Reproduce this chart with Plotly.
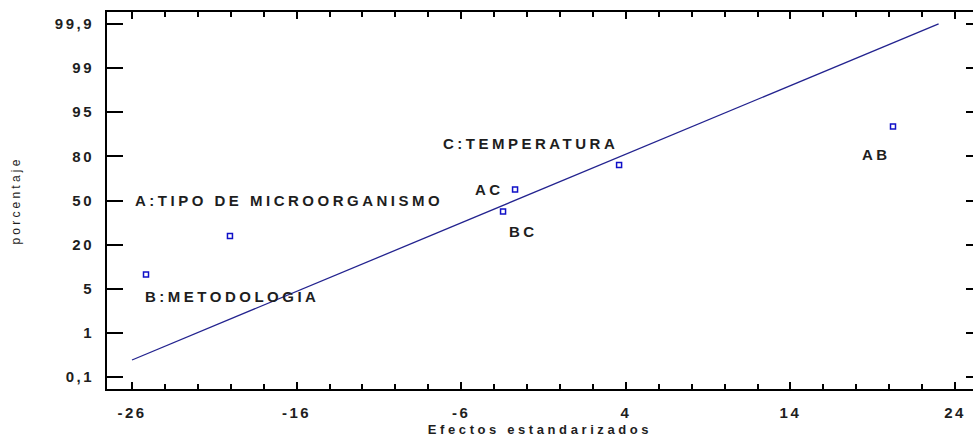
import numpy as np
import plotly.graph_objects as go
from statistics import NormalDist

# ---- data ----
effect_names = ["B:METODOLOGIA", "A:TIPO DE MICROORGANISMO", "BC", "AC", "C:TEMPERATURA", "AB"]
effect_values = [-25.15, -20.05, -3.46, -2.73, 3.59, 20.23]
effect_pcts = [8.3, 25.0, 41.7, 58.3, 75.0, 91.7]

line_effects = [-26.0, 23.0]
line_pcts = [0.26, 99.9]

y_tick_pcts = [0.1, 1, 5, 20, 50, 80, 95, 99, 99.9]
y_tick_labels = ["0,1", "1", "5", "20", "50", "80", "95", "99", "99,9"]
x_tick_vals = [-26, -16, -6, 4, 14, 24]

# label placement (pixel shifts relative to each point)
label_style = {
    "B:METODOLOGIA": dict(xanchor="left", xshift=-3, yshift=-22),
    "A:TIPO DE MICROORGANISMO": dict(xanchor="left", xshift=-97, yshift=35),
    "BC": dict(xanchor="left", xshift=4, yshift=-20),
    "AC": dict(xanchor="right", xshift=-9, yshift=0),
    "C:TEMPERATURA": dict(xanchor="left", xshift=-178, yshift=22),
    "AB": dict(xanchor="left", xshift=-33, yshift=-28),
}

# ---- probability scale (tick labels equally spaced, piecewise-linear in z) ----
nd = NormalDist()
tick_z = np.array([nd.inv_cdf(p / 100.0) for p in y_tick_pcts])
tick_pos = np.arange(len(y_tick_pcts), dtype=float)


def prob_pos(pcts):
    z = np.array([nd.inv_cdf(p / 100.0) for p in pcts])
    return np.interp(z, tick_z, tick_pos)


pts_y = prob_pos(effect_pcts)
line_y = prob_pos(line_pcts)

FONT = "Liberation Sans, Arial, sans-serif"
TXT = "#1e1e1e"


def spaced(s, sp):
    return f'<span style="letter-spacing:{sp}px">{s}</span>'


x_alias = {}
for v in x_tick_vals:
    s = str(v)
    x_alias[s] = spaced(s, 2.5)
    x_alias[s.replace("-", "\u2212")] = spaced(s, 2.5)

fig = go.Figure()
fig.add_trace(go.Scatter(
    x=line_effects, y=line_y, mode="lines",
    line=dict(color="#23238f", width=1.3),
    yaxis="y2", hoverinfo="skip", showlegend=False,
))
fig.add_trace(go.Scatter(
    x=effect_values, y=pts_y, mode="markers",
    marker=dict(symbol="square-open", size=5, color="#1010c8", line=dict(width=1.5, color="#1010c8")),
    text=effect_names, showlegend=False,
))

annotations = []
for name, xv, yv in zip(effect_names, effect_values, pts_y):
    st = label_style[name]
    annotations.append(dict(
        x=xv, y=yv, xref="x", yref="y", text=spaced(name, 3.5),
        showarrow=False, xanchor=st["xanchor"], yanchor="middle",
        xshift=st["xshift"], yshift=st["yshift"],
        font=dict(family=FONT, size=15, color=TXT, weight="bold"),
    ))

yrange = [-0.27, 8.27]
fig.update_layout(
    width=973, height=443,
    margin=dict(l=107, r=0, t=12, b=54),
    paper_bgcolor="white", plot_bgcolor="white",
    showlegend=False,
    annotations=annotations,
    xaxis=dict(
        range=[-27.52, 25.09], tickmode="linear", tick0=x_tick_vals[0], dtick=10,
        labelalias=x_alias,
        ticks="inside", ticklen=7, tickwidth=2, tickcolor="black",
        minor=dict(tick0=x_tick_vals[0], dtick=2, ticks="inside", ticklen=5, tickwidth=1.5,
                   tickcolor="black", showgrid=False),
        showline=True, linecolor="black", linewidth=2, mirror="ticks",
        showgrid=False, zeroline=False, automargin=False,
        tickfont=dict(family=FONT, size=15, color=TXT, weight="bold"),
        ticklabelstandoff=9,
        title=dict(text=spaced("Efectos estandarizados", 3.6), standoff=5,
                   font=dict(family=FONT, size=13, color=TXT, weight="bold")),
    ),
    yaxis=dict(
        range=yrange, tickvals=list(tick_pos),
        ticktext=[spaced(t, 2.5) for t in y_tick_labels],
        ticks="inside", ticklen=16, tickwidth=2, tickcolor="black",
        showline=True, linecolor="black", linewidth=2, mirror=False,
        showgrid=False, zeroline=False, automargin=False,
        tickfont=dict(family=FONT, size=15, color=TXT, weight="bold"),
        ticklabelstandoff=8,
        title=dict(text=spaced("porcentaje", 3.2), standoff=32,
                   font=dict(family=FONT, size=12, color=TXT)),
    ),
    yaxis2=dict(
        range=yrange, overlaying="y", side="right", tickvals=list(tick_pos),
        showticklabels=False, ticks="inside", ticklen=7, tickwidth=2, tickcolor="black",
        showline=False, showgrid=False, zeroline=False, automargin=False,
    ),
)

fig.write_html("out.html", config={"displayModeBar": False},
               post_script="document.body.style.margin='0';")
